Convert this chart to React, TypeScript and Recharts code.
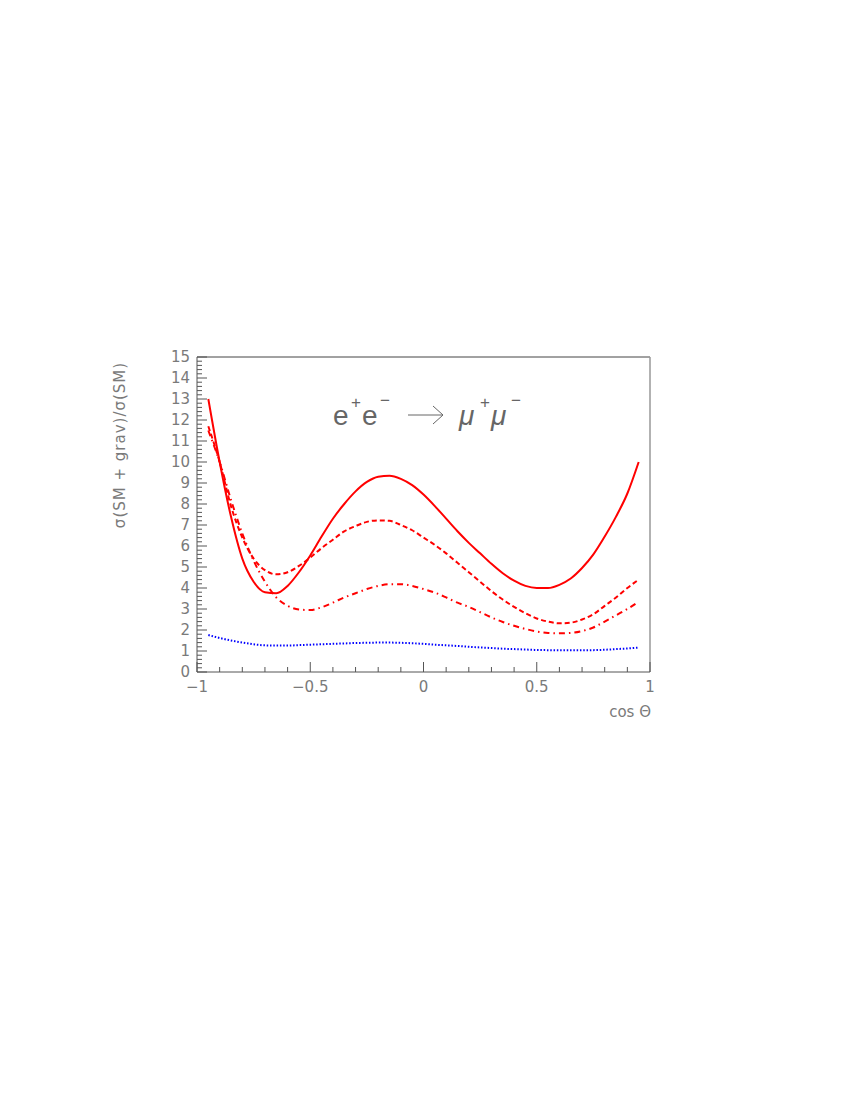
import { Line, LineChart, ReferenceLine, XAxis, YAxis } from "recharts";

// cos(theta) sample points
const cosTheta = [
  -0.95, -0.9, -0.85, -0.8, -0.75, -0.7, -0.65, -0.6, -0.55, -0.5, -0.45, -0.4, -0.35,
  -0.3, -0.25, -0.2, -0.15, -0.1, -0.05, 0, 0.05, 0.1, 0.15, 0.2, 0.25, 0.3, 0.35,
  0.4, 0.45, 0.5, 0.55, 0.6, 0.65, 0.7, 0.75, 0.8, 0.85, 0.9, 0.95,
];

// red solid
const solid = [
  13.0, 10.0, 7.4, 5.4, 4.3, 3.8, 3.75, 4.1, 4.75, 5.55, 6.45, 7.3, 8.0,
  8.6, 9.05, 9.3, 9.35, 9.2, 8.9, 8.45, 7.9, 7.3, 6.7, 6.15, 5.65, 5.15, 4.7,
  4.35, 4.1, 4.0, 4.0, 4.15, 4.45, 4.95, 5.6, 6.45, 7.4, 8.5, 10.0,
];

// red dashed
const dashed = [
  11.7, 10.0, 7.9, 6.4, 5.4, 4.85, 4.65, 4.75, 5.05, 5.45, 5.9, 6.3, 6.7,
  6.95, 7.15, 7.22, 7.2, 7.0, 6.75, 6.4, 6.05, 5.65, 5.2, 4.75, 4.3, 3.85, 3.45,
  3.1, 2.8, 2.55, 2.4, 2.32, 2.35, 2.5, 2.75, 3.15, 3.55, 4.0, 4.4,
];

// red dash-dot
const dashDot = [
  11.5, 10.0, 8.2, 6.6, 5.3, 4.3, 3.55, 3.15, 2.98, 2.95, 3.08, 3.3, 3.55,
  3.75, 3.95, 4.1, 4.18, 4.18, 4.1, 3.95, 3.78, 3.55, 3.3, 3.1, 2.85, 2.6, 2.38,
  2.2, 2.05, 1.93, 1.86, 1.84, 1.86, 1.95, 2.12, 2.4, 2.7, 3.0, 3.35,
];

// blue dotted
const dotted = [
  1.76, 1.62, 1.5, 1.4, 1.32, 1.27, 1.26, 1.26, 1.28, 1.3, 1.32, 1.34, 1.36,
  1.38, 1.39, 1.4, 1.4, 1.39, 1.37, 1.34, 1.3, 1.27, 1.24, 1.2, 1.17, 1.14, 1.11,
  1.09, 1.07, 1.05, 1.04, 1.03, 1.03, 1.03, 1.04, 1.06, 1.09, 1.12, 1.16,
];

const xTicks = [
  -1, -0.9, -0.8, -0.7, -0.6, -0.5, -0.4, -0.3, -0.2, -0.1, 0,
  0.1, 0.2, 0.3, 0.4, 0.5, 0.6, 0.7, 0.8, 0.9, 1,
];
const xMajor = [-1, -0.5, 0, 0.5, 1];
const xMajorLabels = ["\u22121", "\u22120.5", "0", "0.5", "1"];

const yMajor = [0, 1, 2, 3, 4, 5, 6, 7, 8, 9, 10, 11, 12, 13, 14, 15];
const yTicks = Array.from({ length: 76 }, (_, i) => Math.round(i * 2) / 10);

const rows = cosTheta.map((x, i) => ({
  x,
  solid: solid[i],
  dashed: dashed[i],
  dashDot: dashDot[i],
  dotted: dotted[i],
}));

const textColor = "#7a7a7a";
const axisColor = "#555";
const font = "'DejaVu Sans', sans-serif";

function XTick(props: any) {
  const { x, y, payload } = props;
  const k = xMajor.findIndex((m) => Math.abs(m - payload.value) < 1e-6);
  const major = k >= 0;
  return (
    <g>
      <line x1={x} y1={y} x2={x} y2={y - (major ? 10 : 5)} stroke={axisColor} />
      {major && (
        <text x={x} y={y + 20} textAnchor="middle" fontSize={15} fontFamily={font} fill={textColor}>
          {xMajorLabels[k]}
        </text>
      )}
    </g>
  );
}

function YTick(props: any) {
  const { x, y, payload } = props;
  const v = payload.value;
  const major = yMajor.includes(v);
  return (
    <g>
      <line x1={x} y1={y} x2={x + (major ? 10 : 5)} y2={y} stroke={axisColor} />
      {major && (
        <text x={x - 7} y={y} dy="0.36em" textAnchor="end" fontSize={15} fontFamily={font} fill={textColor}>
          {v}
        </text>
      )}
    </g>
  );
}

export default function App() {
  return (
    <div style={{ position: "absolute", left: 0, top: 0, width: 850, height: 1100, background: "#fff" }}>
      <LineChart width={850} height={1100} data={rows} margin={{ top: 357, right: 200, bottom: 398, left: 157 }}>
        <XAxis
          dataKey="x"
          type="number"
          domain={[-1, 1]}
          ticks={xTicks}
          interval={0}
          height={30}
          tickSize={0}
          tickMargin={0}
          tickLine={false}
          tick={<XTick />}
          axisLine={{ stroke: axisColor }}
        />
        <YAxis
          type="number"
          domain={[0, 15]}
          ticks={yTicks}
          interval={0}
          width={40}
          tickSize={0}
          tickMargin={0}
          tickLine={false}
          tick={<YTick />}
          axisLine={{ stroke: axisColor }}
        />
        <ReferenceLine y={15} stroke="#444" />
        <ReferenceLine x={1} stroke="#999" strokeWidth={1.5} />
        <Line type="monotone" dataKey="solid" stroke="#ff0000" strokeWidth={2} dot={false} isAnimationActive={false} />
        <Line type="monotone" dataKey="dashed" stroke="#ff0000" strokeWidth={2} strokeDasharray="5 3" dot={false} isAnimationActive={false} />
        <Line type="monotone" dataKey="dashDot" stroke="#ff0000" strokeWidth={2} strokeDasharray="6 4 1.5 4" dot={false} isAnimationActive={false} />
        <Line type="monotone" dataKey="dotted" stroke="#0000ff" strokeWidth={2} strokeDasharray="1.5 1.8" dot={false} isAnimationActive={false} />
      </LineChart>
      <svg width={850} height={1100} style={{ position: "absolute", left: 0, top: 0, pointerEvents: "none" }}>
        <g fontFamily="'Liberation Sans', sans-serif" fill="#666">
          <text x={333} y={425} fontSize={28}>e</text>
          <text x={351} y={408} fontSize={17}>+</text>
          <text x={362} y={425} fontSize={28}>e</text>
          <text x={380} y={406} fontSize={17}>{"\u2212"}</text>
          <text x={459} y={425} fontSize={28} fontStyle="italic">{"\u03bc"}</text>
          <text x={480} y={408} fontSize={17}>+</text>
          <text x={491} y={425} fontSize={28} fontStyle="italic">{"\u03bc"}</text>
          <text x={511} y={406} fontSize={17}>{"\u2212"}</text>
        </g>
        <g stroke="#666" strokeWidth={1} fill="none">
          <line x1={408} y1={415} x2={443} y2={415} />
          <polyline points="433,406 443,415 433,424" />
        </g>
        <text
          x={0}
          y={0}
          transform="translate(125,445) rotate(-90)"
          textAnchor="middle"
          fontSize={15}
          letterSpacing={1}
          fontFamily={font}
          fill={textColor}
        >
          {"\u03c3(SM + grav)/\u03c3(SM)"}
        </text>
        <text x={651} y={717} textAnchor="end" fontSize={15} fontFamily={font} fill={textColor}>
          {"cos \u0398"}
        </text>
      </svg>
    </div>
  );
}
